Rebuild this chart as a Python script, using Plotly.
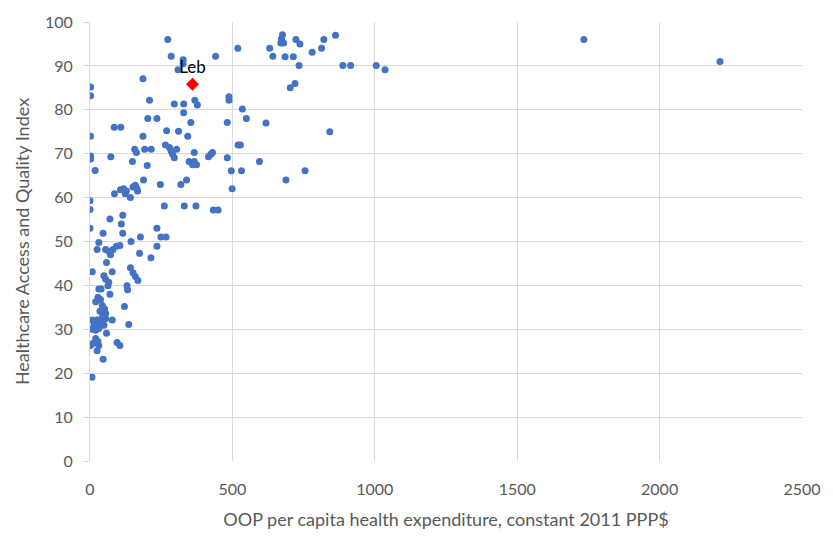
import plotly.graph_objects as go

# OOP per capita health expenditure (constant 2011 PPP$) and HAQ index by country
oop = [
    273, 285, 327, 327, 309, 441, 519, 631, 642, 676, 672, 680, 670, 723, 737, 821, 862,
    685, 714, 780, 813, 734, 888, 915, 1005, 1036, 720, 703, 1734, 2212, 186, 2, 2,
    488, 488, 209, 296, 329, 368, 377, 329, 535,
    549, 618, 203, 235, 354, 482, 85, 108, 2, 186, 269, 311, 343, 842, 265, 279, 285,
    290, 296, 304, 157, 163, 192, 215, 366, 416, 424, 430, 520, 528,
    73, 2, 2, 18, 149, 201, 348, 366, 374, 360, 482, 595, 496, 532, 755, 688,
    188, 247, 319, 339, 499, 86, 107, 118, 128, 124, 142, 151, 159, 165, 167,
    0, 0, 261, 331, 372, 433, 450, 0, 70, 115, 110, 115, 235, 249, 267, 46, 177,
    31, 25, 55, 66, 72, 81, 93, 105, 144, 235, 174, 214, 58, 8, 49, 55, 66, 63, 78,
    142, 151, 159, 168,
    130, 132, 31, 39, 70, 28, 20, 37, 121, 43, 51, 35, 55, 43, 8, 25, 43, 55, 78,
    14, 25, 37, 49, 136, 8, 20, 31,
    58, 20, 28, 11, 2, 31, 25, 95, 105, 46, 7,
]
haq = [
    96.0, 92.2, 91.4, 90.5, 89.1, 92.2, 94.0, 94.0, 92.2, 97.1, 96.1, 95.2, 95.2, 96.0, 95.0, 96.0, 97.0,
    92.1, 92.1, 93.1, 94.0, 90.1, 90.1, 90.1, 90.1, 89.1, 86.0, 85.0, 96.0, 91.0, 87.1, 85.2, 83.2,
    83.0, 82.2, 82.2, 81.3, 81.3, 82.2, 81.1, 79.3, 80.2,
    78.0, 77.0, 78.0, 78.0, 77.1, 77.1, 76.0, 76.0, 74.0, 74.0, 75.2, 75.1, 74.0, 75.0, 72.0, 71.4, 70.6,
    69.9, 69.1, 71.0, 71.0, 70.3, 71.0, 71.0, 70.3, 69.3, 69.9, 70.3, 72.0, 72.0,
    69.3, 69.5, 68.8, 66.2, 68.2, 67.3, 68.2, 68.2, 67.5, 67.5, 69.1, 68.2, 66.1, 66.1, 66.1, 64.0,
    64.0, 63.0, 63.0, 64.0, 62.0, 60.9, 61.8, 62.0, 61.5, 60.9, 60.0, 62.4, 62.8, 62.0, 61.5,
    59.3, 57.3, 58.1, 58.1, 58.1, 57.2, 57.2, 53.0, 55.1, 56.0, 54.0, 51.9, 53.0, 51.0, 51.0, 51.9, 51.0,
    49.8, 48.2, 48.2, 47.8, 47.0, 48.2, 48.9, 49.1, 50.0, 48.9, 47.3, 46.3, 45.2, 43.1, 42.2, 41.4, 40.7, 39.9, 43.1,
    44.0, 42.9, 42.0, 41.1,
    39.9, 39.0, 39.2, 39.2, 38.0, 37.3, 36.3, 36.8, 35.2, 35.4, 34.7, 34.1, 33.6, 32.8, 32.1, 32.1, 31.7, 32.4, 32.1,
    30.9, 30.6, 31.1, 30.9, 31.1, 30.0, 29.8, 30.2,
    29.1, 27.9, 27.2, 26.8, 26.3, 26.3, 25.1, 27.0, 26.3, 23.2, 19.1,
]

# Lebanon, highlighted
leb_oop = [360]
leb_haq = [85.8]
leb_label = ["Leb"]

x_ticks = [0, 500, 1000, 1500, 2000, 2500]
y_ticks = [0, 10, 20, 30, 40, 50, 60, 70, 80, 90, 100]

grid = "#d9d9d9"
text_gray = "#595959"
font_family = "Lato, 'Open Sans', sans-serif"

fig = go.Figure()
fig.add_trace(go.Scatter(
    x=oop, y=haq, mode="markers",
    marker=dict(color="#4472C4", size=7, line=dict(width=0)),
    hoverinfo="x+y", showlegend=False,
))
fig.add_trace(go.Scatter(
    x=leb_oop, y=leb_haq, mode="markers+text",
    text=leb_label, textposition="top center",
    textfont=dict(family=font_family, size=17, color="#000000"),
    marker=dict(color="#FF0000", size=10, symbol="diamond", line=dict(width=0)),
    showlegend=False,
))

fig.update_layout(
    width=833, height=545,
    margin=dict(l=90, r=25, t=16, b=84),
    paper_bgcolor="white", plot_bgcolor="white",
    font=dict(family=font_family, size=16, color=text_gray),
    xaxis=dict(
        range=[0, 2500], tickvals=x_ticks, showgrid=True, gridcolor=grid, gridwidth=1,
        zeroline=False, showline=False, ticks="", ticklabelstandoff=17,
        tickfont=dict(size=16, color=text_gray),
        title=dict(text="OOP per capita health expenditure, constant 2011 PPP$",
                   font=dict(size=18, color=text_gray), standoff=16),
    ),
    yaxis=dict(
        range=[0, 100], tickvals=y_ticks, showgrid=True, gridcolor=grid, gridwidth=1,
        zeroline=False, showline=True, linecolor=grid, linewidth=1,
        ticks="outside", ticklen=6, tickcolor=grid, ticklabelstandoff=7,
        tickfont=dict(size=16, color=text_gray),
        title=dict(text="Healthcare Access and Quality Index",
                   font=dict(size=18, color=text_gray), standoff=10),
    ),
)

fig.write_html("out.html")
